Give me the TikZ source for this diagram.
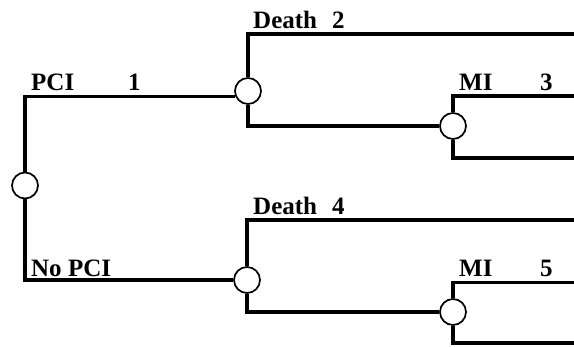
\documentclass[tikz,border=0pt]{standalone}
\usepackage{fontspec}
\setmainfont{Liberation Serif}
\begin{document}
\begin{tikzpicture}[x=1bp,y=-1bp,
  chance/.style={circle,draw,fill=white,line width=1.7bp,minimum size=26bp,inner sep=0pt},
  branch/.style={line width=3.3bp},
  lbl/.style={anchor=base west,inner sep=0pt,font=\fontsize{25bp}{30bp}\selectfont\bfseries}]
\useasboundingbox (0,0) rectangle (574,346);
% chance nodes
\node[chance] (root) at (25,185.5) {};
\node[chance] (c1) at (248,91) {};
\node[chance] (c2) at (453,126) {};
\node[chance] (c3) at (247,280) {};
\node[chance] (c4) at (453,312) {};
% free ends
\coordinate (e1) at (574,34);
\coordinate (e2) at (574,96);
\coordinate (e3) at (574,158);
\coordinate (e4) at (574,220);
\coordinate (e5) at (574,282.5);
\coordinate (e6) at (574,343);
% branches
\draw[branch] (root.north) |- (c1.202);
\draw[branch] (root.south) |- (c3.west);
\draw[branch] (c1.north) |- (e1);
\draw[branch] (c1.south) |- (c2.west);
\draw[branch] (c2.north) |- (e2);
\draw[branch] (c2.south) |- (e3);
\draw[branch] (c3.north) |- (e4);
\draw[branch] (c3.south) |- (c4.west);
\draw[branch] (c4.north) |- (e5);
\draw[branch] (c4.south) |- (e6);
% labels
\node[lbl] (tPCI) at (31,90) {PCI};
\node[lbl] (n1) at (128,90) {1};
\node[lbl] (tD1) at (253,28) {Death};
\node[lbl] (n2) at (332,28) {2};
\node[lbl] (tMI1) at (459,90) {MI};
\node[lbl] (n3) at (540,90) {3};
\node[lbl] (tNoPCI) at (31,276) {No PCI};
\node[lbl] (tD2) at (253,214) {Death};
\node[lbl] (n4) at (332,214) {4};
\node[lbl] (tMI2) at (459,276) {MI};
\node[lbl] (n5) at (540,276) {5};
\end{tikzpicture}
\end{document}
